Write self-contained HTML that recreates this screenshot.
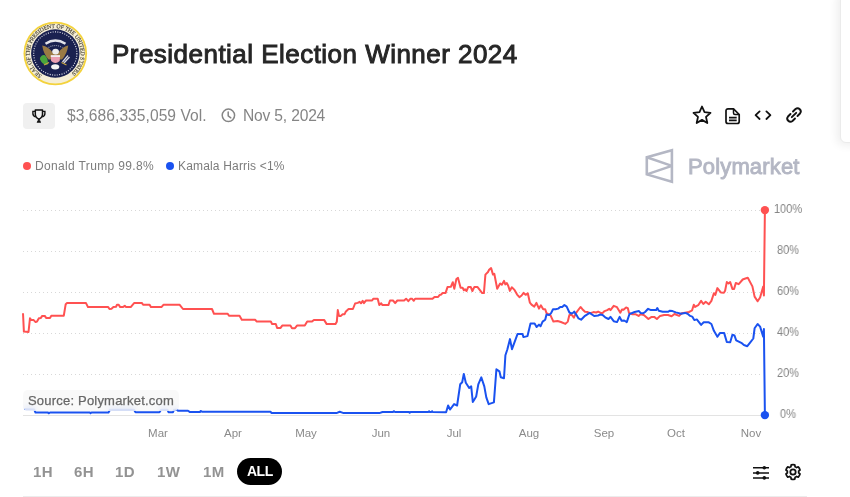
<!DOCTYPE html>
<html><head><meta charset="utf-8">
<style>
*{margin:0;padding:0;box-sizing:border-box}
html,body{width:850px;height:497px;overflow:hidden;background:#fff;font-family:"Liberation Sans",sans-serif}
.abs{position:absolute;will-change:transform}
.title{left:112px;top:36.6px;font-size:26px;font-weight:normal;-webkit-text-stroke:0.95px #262626;color:#262626;white-space:nowrap;line-height:34px;letter-spacing:0.47px}
.meta{font-size:15px;color:#858585;white-space:nowrap;line-height:18px}
.legend{font-size:12px;color:#7c7c7c;white-space:nowrap;line-height:14px}
.ylab{font-size:12px;color:#858585;line-height:14px;width:40px;text-align:center;transform:scaleX(0.92)}
.xlab{font-size:11.5px;color:#8a8a8a;line-height:14px;width:40px;text-align:center}
.btn{font-size:15px;font-weight:bold;color:#939393;line-height:17px;white-space:nowrap;letter-spacing:0.4px}
</style></head><body>
<!-- right card edge -->
<div class="abs" style="will-change:auto;left:839.5px;top:-10px;width:40px;height:153px;border:1px solid #ebebeb;border-radius:6px;box-shadow:-3px 2px 10px rgba(0,0,0,0.07);background:#fff"></div>

<!-- seal -->
<svg class="abs" style="left:22px;top:21px" width="66" height="66" viewBox="0 0 66 66">
  <defs>
    <path id="arcAll" d="M19.84 54.04 A25.4 25.4 0 1 1 46.76 10.96 A25.4 25.4 0 1 1 19.84 54.04"/>
  </defs>
  <circle cx="33.3" cy="32.5" r="31.8" fill="#f3d23c"/>
  <circle cx="33.3" cy="32.5" r="30" fill="#f5eed6"/>
  <circle cx="33.3" cy="32.5" r="24.2" fill="#1a2150"/>
  <circle cx="33.3" cy="32.5" r="21.6" fill="none" stroke="#e6e7ef" stroke-width="1.1" stroke-dasharray="1 1.4"/>
  <text font-family="Liberation Serif" font-size="5.8" font-weight="normal" stroke="#4a4636" stroke-width="0.15" fill="#4a4636"><textPath href="#arcAll" textLength="128" lengthAdjust="spacing">SEAL OF THE PRESIDENT OF THE UNITED STATES</textPath></text>
  <path d="M23.5 22.8 Q33.3 16.3 43.5 22.8" fill="none" stroke="#e4e4ea" stroke-width="2.4"/>
  <path d="M26.5 26.5 Q33.3 22.5 40.5 26.5" fill="none" stroke="#8f92a8" stroke-width="1.2" stroke-dasharray="1 1"/>
  <path d="M20.2 24.5 Q26 25 31 32 L36 32 Q41 25 46.3 24.5 Q45 33 40 38.5 L26.5 38.5 Q21.5 33 20.2 24.5 Z" fill="#9a7a44"/>
  <path d="M28.8 34.2 H38 L37.7 40 Q33.4 44 29.1 40 Z" fill="#ea9fb3"/>
  <path d="M28.8 34.2 H38 V36 H28.8 Z" fill="#f0f0f0"/>
  <ellipse cx="33.6" cy="30.6" rx="3.4" ry="2.9" fill="#eeeeee"/>
  <path d="M17.8 38 Q19 33.5 22.5 34 Q26.5 37 25.8 43.5 Q21 45 17.8 38 Z" fill="#4aa53c"/>
  <path d="M40.5 41 L46 34.5 M42 42 L47.5 36" stroke="#d8d8e0" stroke-width="1.3"/>
  <path d="M22 44 L27 41.5 M39.5 41.5 L44.5 44" stroke="#c9a640" stroke-width="1.2"/>
  <ellipse cx="33.2" cy="45.8" rx="4.1" ry="2.6" fill="#f4f4f4"/>
</svg>

<div class="abs title">Presidential Election Winner 2024</div>

<!-- meta row -->
<div class="abs" style="left:23px;top:103px;width:32px;height:25.5px;background:#f0f0f0;border-radius:4px"></div>
<svg class="abs" style="left:22px;top:100px" width="36" height="30" viewBox="22 100 36 30">
  <path d="M35.3 110.1 H42.5 V114.3 Q42.5 117.6 38.9 119.2 Q35.3 117.6 35.3 114.3 Z" fill="none" stroke="#111" stroke-width="1.5" stroke-linejoin="round"/>
  <path d="M35.3 111.4 H32.9 V113.6 Q32.9 116.2 35.6 116.9 M42.5 111.4 H44.9 V113.6 Q44.9 116.2 42.2 116.9" fill="none" stroke="#111" stroke-width="1.4"/>
  <path d="M38.9 119 V121" stroke="#111" stroke-width="1.5"/>
  <path d="M36.7 122.8 L37.5 120.6 H40.3 L41.1 122.8 Z" fill="#111"/>
</svg>
<div class="abs meta" style="left:67px;top:106.6px;letter-spacing:0.05px;font-size:15.6px">$3,686,335,059 Vol.</div>
<svg class="abs" style="left:220px;top:107px" width="17" height="17" viewBox="0 0 17 17">
  <circle cx="8.4" cy="8.3" r="6.2" fill="none" stroke="#858585" stroke-width="1.5"/>
  <path d="M8.2 5 V8.8 L10.8 10.8" fill="none" stroke="#858585" stroke-width="1.5" stroke-linecap="round"/>
</svg>
<div class="abs meta" style="left:243px;top:106.6px;letter-spacing:-0.18px;font-size:15.6px">Nov 5, 2024</div>

<!-- right icons -->
<svg class="abs" style="left:690px;top:104px" width="24" height="22" viewBox="0 0 24 22">
  <path d="M12 2.5 L14.5 8.1 L20.5 8.8 L16 12.9 L17.3 19 L12 15.9 L6.7 19 L8 12.9 L3.5 8.8 L9.5 8.1 Z" fill="none" stroke="#111" stroke-width="1.8" stroke-linejoin="round"/>
</svg>
<svg class="abs" style="left:723px;top:106px" width="20" height="20" viewBox="0 0 20 20">
  <path d="M5 2.8 H10.5 L16.2 8.5 V15.5 A2 2 0 0 1 14.2 17.5 H5 A2 2 0 0 1 3 15.5 V4.8 A2 2 0 0 1 5 2.8 Z" fill="none" stroke="#111" stroke-width="1.7" stroke-linejoin="round"/>
  <path d="M10.5 2.8 V7 A1.5 1.5 0 0 0 12 8.5 H16.2" fill="none" stroke="#111" stroke-width="1.5"/>
  <path d="M6 11.7 H13.7 M6 14.3 H13.7" stroke="#111" stroke-width="1.7"/>
</svg>
<svg class="abs" style="left:753px;top:108px" width="20" height="16" viewBox="0 0 20 16">
  <path d="M6.6 3.4 L2.6 7.2 L6.6 11 M13.4 3.4 L17.4 7.2 L13.4 11" fill="none" stroke="#111" stroke-width="1.8" stroke-linecap="round" stroke-linejoin="round"/>
</svg>
<svg class="abs" style="left:784px;top:105px" width="20" height="20" viewBox="0 0 20 20">
  <path d="M9 6.5 L11.5 4 A3.2 3.2 0 0 1 16 8.5 L13.5 11" fill="none" stroke="#111" stroke-width="1.9" stroke-linecap="round"/>
  <path d="M11 13.5 L8.5 16 A3.2 3.2 0 0 1 4 11.5 L6.5 9" fill="none" stroke="#111" stroke-width="1.9" stroke-linecap="round"/>
  <path d="M7.8 12.2 L12.2 7.8" stroke="#111" stroke-width="1.9" stroke-linecap="round"/>
</svg>

<!-- legend -->
<div class="abs" style="left:23px;top:162px;width:8px;height:8px;border-radius:50%;background:#ff5151"></div>
<div class="abs legend" style="left:35.4px;top:159px;letter-spacing:0.35px">Donald Trump 99.8%</div>
<div class="abs" style="left:166px;top:162px;width:8px;height:8px;border-radius:50%;background:#1a52f0"></div>
<div class="abs legend" style="left:178px;top:159px;letter-spacing:0.17px">Kamala Harris &lt;1%</div>

<!-- polymarket logo -->
<svg class="abs" style="left:640px;top:144px" width="40" height="44" viewBox="640 144 40 44">
  <path d="M646.8 157.3 L671.9 150.3 L671.9 181.8 L646.8 174.4 Z" fill="none" stroke="#b4b7c4" stroke-width="2.6" stroke-linejoin="miter"/><path d="M646.8 157.3 L671.9 165.9 L646.8 174.4" fill="none" stroke="#b4b7c4" stroke-width="2.5" stroke-linejoin="bevel"/>
</svg>
<div class="abs" style="left:687.8px;top:153.5px;font-size:22px;font-weight:normal;-webkit-text-stroke:0.9px #b4b7c4;color:#b4b7c4;line-height:26px;white-space:nowrap;letter-spacing:0.15px">Polymarket</div>

<!-- chart -->
<svg class="abs" style="left:0;top:0" width="850" height="497" viewBox="0 0 850 497">
  <g stroke="#d8d8d8" stroke-width="1" stroke-dasharray="1 3">
    <line x1="23" y1="210.5" x2="763" y2="210.5"/>
    <line x1="23" y1="251.5" x2="763" y2="251.5"/>
    <line x1="23" y1="292.5" x2="763" y2="292.5"/>
    <line x1="23" y1="333.5" x2="763" y2="333.5"/>
    <line x1="23" y1="374.5" x2="763" y2="374.5"/>
  </g>
  <line x1="23" y1="415.5" x2="764" y2="415.5" stroke="#e3e3e3" stroke-width="1"/>
  <path d="M23.0 313.3 L23.9 331.6 L28.5 332.0 L30.0 318.2 L31.1 319.9 L33.7 320.1 L35.6 322.1 L37.0 321.6 L38.9 318.2 L40.9 317.9 L42.2 315.9 L44.8 315.9 L46.1 317.9 L50.0 317.9 L51.3 315.7 L63.8 315.7 L65.7 304.2 L67.0 303.1 L86.0 303.1 L88.0 307.1 L108.2 307.1 L109.5 309.0 L111.5 308.8 L113.4 307.1 L116.0 306.8 L117.0 304.8 L118.7 304.8 L120.2 307.1 L122.8 307.1 L124.8 305.8 L126.1 307.1 L130.7 307.1 L132.6 304.8 L134.3 302.9 L141.8 302.9 L143.1 304.8 L149.6 304.8 L150.9 307.1 L161.4 307.1 L163.4 304.8 L179.7 304.8 L183.0 309.0 L212.0 309.0 L214.0 313.8 L227.7 313.8 L229.0 315.8 L239.5 315.8 L241.8 319.8 L255.1 319.8 L256.8 321.6 L270.8 321.6 L272.1 324.0 L275.8 324.0 L277.1 327.9 L280.6 327.9 L282.2 325.6 L290.4 325.6 L292.0 328.2 L295.0 328.2 L297.0 325.6 L304.8 325.6 L307.2 321.6 L312.0 321.6 L313.9 319.9 L324.1 319.9 L326.7 324.1 L335.5 324.1 L336.8 321.8 L337.8 310.1 L339.0 315.9 L340.7 315.9 L342.7 314.2 L344.6 314.2 L345.9 311.4 L348.6 309.0 L352.9 309.0 L355.1 303.5 L357.7 302.9 L359.7 301.8 L361.0 303.3 L362.7 300.9 L363.9 303.1 L366.0 300.5 L372.1 300.5 L373.4 298.7 L377.7 298.7 L379.3 305.1 L381.2 303.3 L382.5 305.1 L388.4 305.1 L390.0 300.5 L393.0 300.5 L395.2 303.1 L397.3 300.5 L404.1 300.5 L406.1 298.7 L408.3 301.2 L410.3 298.8 L412.2 298.8 L413.8 300.8 L415.1 298.8 L432.5 298.8 L434.5 297.0 L438.1 297.0 L439.7 294.9 L441.2 294.6 L442.6 292.9 L445.6 292.9 L447.5 287.1 L450.8 286.8 L452.8 282.2 L454.3 288.8 L456.4 279.0 L458.0 277.9 L460.6 287.7 L462.6 287.7 L463.9 290.3 L465.2 289.4 L466.5 291.0 L468.2 287.1 L470.8 287.1 L472.4 291.0 L474.3 287.1 L477.6 287.1 L482.2 293.1 L483.9 293.1 L485.4 274.6 L488.0 272.0 L489.1 269.8 L491.1 268.1 L493.0 274.6 L494.3 273.7 L497.2 288.8 L500.1 283.5 L501.8 284.8 L504.0 280.9 L505.3 284.4 L506.9 283.1 L508.2 285.7 L509.9 290.9 L511.8 287.3 L514.5 289.9 L517.1 294.6 L519.4 297.2 L521.6 295.5 L523.6 292.9 L525.6 294.8 L527.8 293.3 L529.9 302.7 L531.5 304.6 L534.3 306.6 L536.4 302.9 L539.0 308.6 L540.9 305.3 L543.2 309.2 L545.2 309.2 L546.5 313.1 L550.4 315.1 L553.4 321.6 L557.6 321.0 L560.9 322.0 L565.4 323.9 L567.8 321.6 L569.4 315.1 L572.0 315.1 L573.9 317.7 L575.9 313.1 L580.5 307.0 L582.4 309.2 L585.0 311.8 L587.7 312.1 L590.3 313.1 L593.5 312.1 L596.2 312.5 L598.1 311.6 L600.7 312.9 L602.6 312.9 L604.6 311.1 L607.2 310.1 L609.2 308.8 L610.5 310.1 L613.7 305.8 L617.0 307.2 L620.3 312.7 L622.0 309.4 L623.5 309.8 L626.1 307.5 L627.8 308.1 L629.0 312.9 L632.0 314.2 L635.3 314.2 L638.6 315.9 L640.5 314.2 L643.8 315.0 L648.4 319.0 L651.6 316.9 L654.2 316.9 L656.9 319.0 L660.1 315.9 L664.1 315.0 L668.0 315.0 L671.6 316.3 L674.5 314.0 L679.1 315.9 L681.7 313.3 L685.0 312.7 L688.9 312.0 L690.0 311.5 L692.1 310.3 L693.8 304.7 L695.1 306.9 L698.2 305.2 L701.1 300.9 L703.3 304.0 L705.7 301.8 L708.8 304.3 L711.4 300.9 L713.9 293.2 L715.3 294.9 L717.4 288.1 L720.8 292.4 L723.9 292.7 L725.1 290.7 L726.8 282.1 L728.5 283.5 L730.2 282.1 L732.4 288.9 L734.1 288.9 L735.8 283.0 L738.7 284.2 L742.7 279.5 L744.7 278.7 L747.8 277.8 L752.4 286.4 L754.6 296.6 L757.6 301.3 L760.1 297.5 L763.2 286.4 L763.9 295.4 L764.9 209.8" fill="none" stroke="#ff5151" stroke-width="2" stroke-linejoin="round"/>
  <path d="M24.2 409.0 L34.0 409.2 L35.5 412.5 L48.0 412.5 L48.7 413.3 L50.0 412.5 L90.0 412.5 L90.5 413.3 L91.5 412.5 L108.5 412.5 L110.0 409.8 L134.0 409.8 L135.5 412.2 L159.5 412.2 L161.0 409.8 L167.5 409.8 L168.5 412.2 L173.0 412.2 L174.0 409.8 L177.0 409.8 L178.0 410.7 L188.0 410.7 L190.0 412.1 L200.0 412.1 L200.6 411.0 L202.0 411.7 L270.6 411.7 L271.4 412.9 L337.0 412.9 L339.7 411.8 L343.0 412.9 L380.0 412.9 L382.5 412.0 L393.0 412.0 L393.8 411.2 L395.0 412.0 L409.0 412.0 L409.7 412.8 L410.5 412.0 L428.5 412.0 L429.0 411.2 L429.8 412.0 L431.5 412.0 L432.0 411.2 L432.6 412.0 L446.1 412.2 L448.1 405.5 L450.1 409.5 L454.1 404.1 L457.1 405.5 L460.2 384.3 L462.2 382.3 L463.8 373.9 L465.8 382.7 L469.2 388.0 L471.2 386.4 L472.8 402.0 L476.2 396.4 L478.3 384.3 L481.3 377.3 L484.3 386.4 L486.3 397.4 L488.7 404.1 L493.9 402.4 L496.4 369.3 L499.4 371.3 L500.8 377.3 L504.0 378.3 L505.4 355.2 L507.4 349.2 L510.0 339.1 L512.0 349.2 L517.5 334.1 L522.5 334.1 L523.5 337.1 L527.5 336.1 L530.5 323.6 L534.6 323.6 L536.6 327.0 L539.0 324.6 L540.6 326.2 L542.6 321.6 L545.2 319.7 L546.5 314.4 L549.1 315.1 L551.1 313.1 L553.0 309.2 L555.6 309.2 L558.2 308.6 L560.2 307.0 L562.2 307.0 L564.4 305.0 L566.7 306.6 L569.4 312.5 L571.3 313.5 L573.0 312.9 L574.2 311.6 L576.5 315.1 L578.5 318.4 L581.1 319.7 L585.0 315.8 L589.6 312.9 L594.2 316.0 L598.1 315.5 L600.0 314.6 L602.6 315.0 L605.2 317.3 L608.5 319.0 L610.5 316.9 L613.7 321.2 L617.0 322.1 L619.6 316.9 L621.6 320.8 L624.2 320.5 L626.8 322.1 L629.4 314.2 L634.6 312.0 L639.0 311.1 L640.5 312.9 L643.1 313.3 L645.1 312.0 L648.1 308.8 L651.0 310.1 L656.2 310.1 L657.3 308.1 L658.8 310.7 L662.7 311.8 L668.0 311.8 L669.9 310.7 L672.5 311.1 L675.8 312.4 L681.0 313.7 L685.0 312.9 L687.6 313.7 L690.2 315.9 L692.2 316.6 L694.3 320.1 L696.8 319.4 L701.1 324.9 L703.7 322.3 L708.8 322.3 L711.4 324.0 L713.9 330.8 L717.4 336.8 L719.9 333.1 L724.2 333.1 L726.8 342.0 L730.2 342.3 L732.4 334.8 L734.5 335.5 L736.2 340.3 L741.3 342.8 L743.9 345.0 L747.3 346.2 L749.9 342.8 L753.3 338.5 L754.6 328.3 L757.6 324.0 L760.1 326.6 L763.2 336.8 L763.9 329.1 L764.9 414.8" fill="none" stroke="#1a52f0" stroke-width="2" stroke-linejoin="round"/>
  <circle cx="764.9" cy="210.1" r="4.2" fill="#ff5151"/>
  <circle cx="764.9" cy="415.1" r="4.2" fill="#1a52f0"/>
</svg>

<!-- source box -->
<div class="abs" style="left:23px;top:390.2px;width:156px;height:21.2px;border-radius:5px;background:rgba(247,247,247,0.72);backdrop-filter:blur(3px)"></div>
<div class="abs" style="left:28px;top:393px;font-size:13px;color:#666;-webkit-text-stroke:0.25px #666;line-height:15px;white-space:nowrap;letter-spacing:0.2px">Source: Polymarket.com</div>

<!-- y labels -->
<div class="abs ylab" style="left:768px;top:202px">100%</div>
<div class="abs ylab" style="left:768px;top:243px">80%</div>
<div class="abs ylab" style="left:768px;top:284px">60%</div>
<div class="abs ylab" style="left:768px;top:325px">40%</div>
<div class="abs ylab" style="left:768px;top:366px">20%</div>
<div class="abs ylab" style="left:768px;top:407px">0%</div>

<!-- x labels -->
<div class="abs xlab" style="left:138px;top:426px">Mar</div>
<div class="abs xlab" style="left:213px;top:426px">Apr</div>
<div class="abs xlab" style="left:286px;top:426px">May</div>
<div class="abs xlab" style="left:361px;top:426px">Jun</div>
<div class="abs xlab" style="left:434px;top:426px">Jul</div>
<div class="abs xlab" style="left:509px;top:426px">Aug</div>
<div class="abs xlab" style="left:584px;top:426px">Sep</div>
<div class="abs xlab" style="left:656px;top:426px">Oct</div>
<div class="abs xlab" style="left:731px;top:426px">Nov</div>

<!-- range buttons -->
<div class="abs btn" style="left:33px;top:463px">1H</div>
<div class="abs btn" style="left:73.5px;top:463px">6H</div>
<div class="abs btn" style="left:115px;top:463px">1D</div>
<div class="abs btn" style="left:157px;top:463px">1W</div>
<div class="abs btn" style="left:203px;top:463px">1M</div>
<div class="abs" style="left:237px;top:458px;width:45px;height:27px;border-radius:14px;background:#000"></div>
<div class="abs btn" style="left:246.8px;top:463.3px;color:#fff;font-size:14px;letter-spacing:-0.5px">ALL</div>

<!-- settings icons -->
<svg class="abs" style="left:750px;top:463px" width="22" height="20" viewBox="0 0 22 20">
  <path d="M3 4.7 H19 M3 9.9 H19 M3 14.9 H19" stroke="#111" stroke-width="1.5"/>
  <circle cx="14.3" cy="4.7" r="1.8" fill="#111"/>
  <circle cx="7.7" cy="9.9" r="1.8" fill="#111"/>
  <circle cx="14.3" cy="14.9" r="1.8" fill="#111"/>
</svg>
<svg class="abs" style="left:781px;top:459.9px" width="24" height="24" viewBox="0 0 24 24">
  <path d="M9.86 6.72 L10.23 4.92 A7.3 7.3 0 0 1 13.77 4.92 L14.14 6.72 A5.7 5.7 0 0 1 15.51 7.51 L17.25 6.93 A7.3 7.3 0 0 1 19.02 9.99 L17.64 11.21 A5.7 5.7 0 0 1 17.64 12.79 L19.02 14.01 A7.3 7.3 0 0 1 17.25 17.07 L15.51 16.49 A5.7 5.7 0 0 1 14.14 17.28 L13.77 19.08 A7.3 7.3 0 0 1 10.23 19.08 L9.86 17.28 A5.7 5.7 0 0 1 8.49 16.49 L6.75 17.07 A7.3 7.3 0 0 1 4.98 14.01 L6.36 12.79 A5.7 5.7 0 0 1 6.36 11.21 L4.98 9.99 A7.3 7.3 0 0 1 6.75 6.93 L8.49 7.51 A5.7 5.7 0 0 1 9.86 6.72 Z" fill="none" stroke="#111" stroke-width="1.75" stroke-linejoin="round"/>
  <circle cx="12" cy="12" r="2.7" fill="none" stroke="#111" stroke-width="1.75"/>
</svg>

<!-- bottom line -->
<div class="abs" style="left:23px;top:496px;width:784px;height:1px;background:#ececec"></div>
</body></html>
